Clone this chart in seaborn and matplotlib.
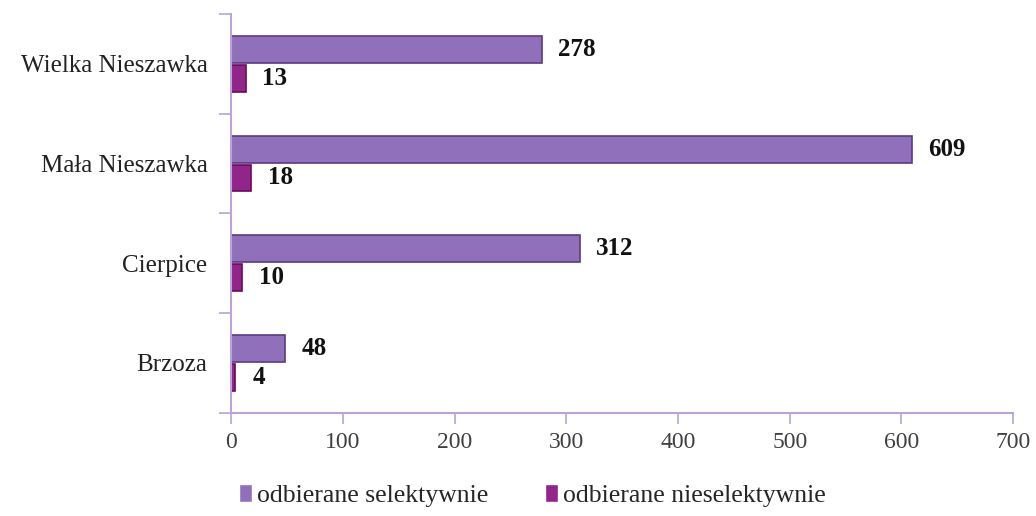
import matplotlib
matplotlib.use("Agg")
import matplotlib.pyplot as plt
import seaborn as sns
import pandas as pd
from matplotlib.ticker import FixedLocator

categories = ["Wielka Nieszawka", "Mała Nieszawka", "Cierpice", "Brzoza"]
series_names = ["odbierane selektywnie", "odbierane nieselektywnie"]
selective = [278, 609, 312, 48]
nonselective = [13, 18, 10, 4]
x_ticks = [0, 100, 200, 300, 400, 500, 600, 700]

df = pd.DataFrame({
    "miejscowosc": categories * 2,
    "seria": [series_names[0]] * 4 + [series_names[1]] * 4,
    "wartosc": selective + nonselective,
})

sns.set_theme(style="white")
plt.rcParams["font.family"] = ["Liberation Serif", "DejaVu Serif"]

colors = ["#9063c8", "#a3139a"]
edge_colors = ["#5b3a80", "#6a0a5e"]

fig = plt.figure(figsize=(10.36, 5.16), dpi=100)
ax = fig.add_axes([0.223, 0.200, 0.755, 0.773])

sns.barplot(data=df, y="miejscowosc", x="wartosc", hue="seria",
            order=categories, hue_order=series_names, palette=colors,
            orient="h", width=0.58, ax=ax, legend=True)

for container, ec in zip(ax.containers, edge_colors):
    for patch in container:
        patch.set_edgecolor(ec)
        patch.set_linewidth(1.2)
        h = patch.get_height()
        patch.set_y(patch.get_y() + 0.01)
        patch.set_height(h - 0.02)
    ax.bar_label(container, padding=12, fontsize=18, fontweight="bold",
                 color="#111111")

ax.set_xlim(0, 700)
ax.set_ylim(3.5, -0.5)
ax.set_xticks(x_ticks)
ax.set_xticklabels([str(t) for t in x_ticks], fontsize=17, color="#404040")
ax.tick_params(axis="y", which="major", length=0, labelsize=18, pad=17,
               labelcolor="#222222")
ax.yaxis.set_minor_locator(FixedLocator([-0.5, 0.5, 1.5, 2.5, 3.5]))
ax.tick_params(axis="y", which="minor", length=9, color="#b8a4d6", width=1.2, left=True)
ax.tick_params(axis="x", which="major", length=8, color="#b8a4d6", width=1.2,
               bottom=True, pad=6)
ax.set_xlabel("")
ax.set_ylabel("")

for side in ["top", "right"]:
    ax.spines[side].set_visible(False)
for side in ["left", "bottom"]:
    ax.spines[side].set_color("#b8a4d6")
    ax.spines[side].set_linewidth(1.5)

handles, labels = ax.get_legend_handles_labels()
ax.legend_.remove()
fig.legend(handles, labels, loc="center", bbox_to_anchor=(0.514, 0.04), ncol=2,
           frameon=False, fontsize=18.5, handlelength=0.5, handleheight=0.7,
           handletextpad=0.2, columnspacing=2.2)

fig.savefig("out.png", dpi=100)
